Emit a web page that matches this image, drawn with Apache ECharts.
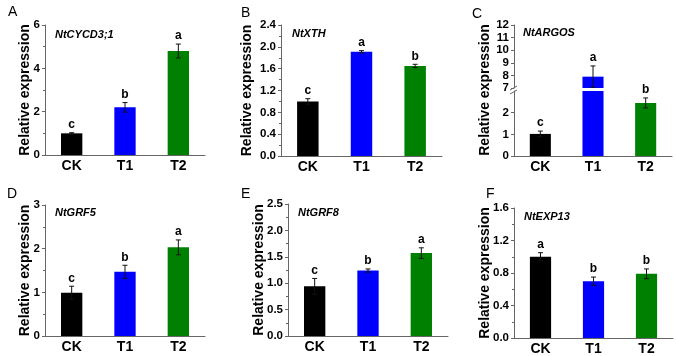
<!DOCTYPE html>
<html>
<head>
<meta charset="utf-8">
<script src="https://cdn.jsdelivr.net/npm/echarts@6/dist/echarts.min.js"></script>
<style>
  html, body { margin: 0; padding: 0; background: #fff; }
  #chart { width: 676px; height: 356px; }
</style>
</head>
<body>
<div id="chart"></div>
<script>
// categories shared by every panel
const categories = ['CK', 'T1', 'T2'];

// A  NtCYCD3;1
const cycdVals = [1.0, 2.2, 4.8];
const cycdErr = [0.03, 0.22, 0.32];
const cycdSig = ['c', 'b', 'a'];
// B  NtXTH
const xthVals = [1.0, 1.91, 1.65];
const xthErr = [0.05, 0.02, 0.03];
const xthSig = ['c', 'a', 'b'];
// C  NtARGOS (broken axis)
const argosVals = [1.02, 7.9, 2.45];
const argosErr = [0.13, 0.85, 0.23];
const argosSig = ['c', 'a', 'b'];
// D  NtGRF5
const grf5Vals = [0.99, 1.47, 2.03];
const grf5Err = [0.15, 0.15, 0.17];
const grf5Sig = ['c', 'b', 'a'];
// E  NtGRF8
const grf8Vals = [0.94, 1.24, 1.57];
const grf8Err = [0.15, 0.03, 0.1];
const grf8Sig = ['c', 'b', 'a'];
// F  NtEXP13
const exp13Vals = [1.0, 0.7, 0.79];
const exp13Err = [0.05, 0.05, 0.06];
const exp13Sig = ['a', 'b', 'b'];

const barColors = ['#000000', '#0000ff', '#008000'];
const FONT = 'Liberation Sans, Arial, sans-serif';
const AXIS = '#666';

const chart = echarts.init(document.getElementById('chart'), null, { renderer: 'canvas' });

// grid order: A, B, C-upper, C-lower, D, E, F
const grids = [
  { left: 45, top: 25, width: 160, height: 130 },
  { left: 281, top: 25, width: 161, height: 131 },
  { left: 514, top: 25, width: 158, height: 63 },
  { left: 514, top: 91, width: 158, height: 65 },
  { left: 45, top: 205, width: 160, height: 131 },
  { left: 288, top: 204, width: 160, height: 132 },
  { left: 514, top: 208, width: 159, height: 131 }
];

function xAx(gi, show) {
  return {
    gridIndex: gi, type: 'category', data: categories, show: show,
    axisLine: { lineStyle: { color: AXIS, width: 1 } },
    axisTick: { length: 3, lineStyle: { color: AXIS } },
    axisLabel: { color: '#000', fontFamily: FONT, fontWeight: 'bold', fontSize: 14, margin: 4 }
  };
}

function yAx(gi, min, max, step, dec, nameGap, opts) {
  const ax = {
    gridIndex: gi, type: 'value', min: min, max: max, interval: step,
    name: nameGap == null ? '' : 'Relative expression',
    nameLocation: 'middle', nameGap: nameGap || 0, nameMoveOverlap: false,
    nameTextStyle: { color: '#000', fontFamily: FONT, fontWeight: 'bold', fontSize: 14 },
    axisLine: { show: true, lineStyle: { color: AXIS, width: 1 } },
    axisTick: { show: true, length: 3, lineStyle: { color: AXIS } },
    minorTick: { show: true, splitNumber: 2, length: 2, lineStyle: { color: AXIS } },
    splitLine: { show: false },
    axisLabel: {
      color: '#000', fontFamily: FONT, fontWeight: 'bold', fontSize: 11.5, margin: 5,
      formatter: v => v.toFixed(dec)
    }
  };
  return Object.assign(ax, opts || {});
}

function bars(idx, vals, keep) {
  return {
    type: 'bar', xAxisIndex: idx, yAxisIndex: idx, barWidth: '40%', clip: true,
    data: vals.map((v, i) => ({
      value: keep.includes(i) ? v : '-',
      itemStyle: { color: barColors[i] }
    }))
  };
}

function errs(idx, vals, err, sig, keep) {
  return {
    type: 'custom', xAxisIndex: idx, yAxisIndex: idx, z: 5,
    data: vals.map((v, i) => [i, v, err[i]]).filter(d => keep.includes(d[0])),
    renderItem: function (params, api) {
      const i = api.value(0), v = api.value(1), e = api.value(2);
      const top = api.coord([i, v + e]);
      const bot = api.coord([i, v - e]);
      const cap = 2.5;
      const ls = { stroke: '#111', lineWidth: 1 };
      return {
        type: 'group',
        children: [
          { type: 'line', shape: { x1: top[0], y1: top[1], x2: bot[0], y2: bot[1] }, style: ls },
          { type: 'line', shape: { x1: top[0] - cap, y1: top[1], x2: top[0] + cap, y2: top[1] }, style: ls },
          { type: 'line', shape: { x1: bot[0] - cap, y1: bot[1], x2: bot[0] + cap, y2: bot[1] }, style: ls },
          {
            type: 'text', x: top[0], y: top[1] - 2,
            style: {
              text: sig[i], textAlign: 'center', textVerticalAlign: 'bottom',
              font: 'bold 12px ' + FONT, fill: '#000'
            }
          }
        ]
      };
    }
  };
}

const all = [0, 1, 2];

function letter(t, left, top) {
  return { text: t, left: left, top: top, textStyle: { color: '#000', fontFamily: FONT, fontWeight: 'normal', fontSize: 14 } };
}
function gene(t, left, top) {
  return { text: t, left: left, top: top, textStyle: { color: '#000', fontFamily: FONT, fontWeight: 'bold', fontStyle: 'italic', fontSize: 11 } };
}

chart.setOption({
  animation: false,
  backgroundColor: '#fff',
  title: [
    letter('A', 3, 0), letter('B', 236, 1), letter('C', 467, 2),
    letter('D', 2, 182), letter('E', 236, 182), letter('F', 481, 182),
    gene('NtCYCD3;1', 50, 24), gene('NtXTH', 287, 23), gene('NtARGOS', 518, 22),
    gene('NtGRF5', 50, 202), gene('NtGRF8', 293, 202), gene('NtEXP13', 519, 206)
  ],
  grid: grids,
  xAxis: [xAx(0, true), xAx(1, true), xAx(2, false), xAx(3, true), xAx(4, true), xAx(5, true), xAx(6, true)],
  yAxis: [
    yAx(0, 0, 6, 2, 0, 13),
    yAx(1, 0, 2.4, 0.4, 1, 27),
    yAx(2, 7, 12, 1, 0, null, { minorTick: { show: false } }),
    yAx(3, 0, 3, 1, 0, null, {
      minorTick: { show: false },
      axisTick: { show: true, length: 3, lineStyle: { color: AXIS }, customValues: [0, 1, 2] },
      axisLabel: {
        color: '#000', fontFamily: FONT, fontWeight: 'bold', fontSize: 11.5, margin: 5,
        customValues: [0, 1, 2]
      }
    }),
    yAx(4, 0, 3, 1, 0, 13),
    yAx(5, 0, 2.5, 0.5, 1, 22),
    yAx(6, 0, 1.6, 0.4, 1, 22)
  ],
  graphic: [
    {
      type: 'text', x: 485, y: 90, rotation: Math.PI / 2,
      style: { text: 'Relative expression', textAlign: 'center', textVerticalAlign: 'middle', font: 'bold 14px ' + FONT, fill: '#000' }
    },
    { type: 'line', shape: { x1: 510, y1: 90, x2: 517, y2: 86 }, style: { stroke: AXIS, lineWidth: 1 } },
    { type: 'line', shape: { x1: 510, y1: 94, x2: 517, y2: 90 }, style: { stroke: AXIS, lineWidth: 1 } }
  ],
  series: [
    bars(0, cycdVals, all), errs(0, cycdVals, cycdErr, cycdSig, all),
    bars(1, xthVals, all), errs(1, xthVals, xthErr, xthSig, all),
    bars(2, argosVals, [1]), errs(2, argosVals, argosErr, argosSig, [1]),
    bars(3, argosVals, all), errs(3, argosVals, argosErr, argosSig, [0, 2]),
    bars(4, grf5Vals, all), errs(4, grf5Vals, grf5Err, grf5Sig, all),
    bars(5, grf8Vals, all), errs(5, grf8Vals, grf8Err, grf8Sig, all),
    bars(6, exp13Vals, all), errs(6, exp13Vals, exp13Err, exp13Sig, all)
  ]
});
</script>
</body>
</html>
